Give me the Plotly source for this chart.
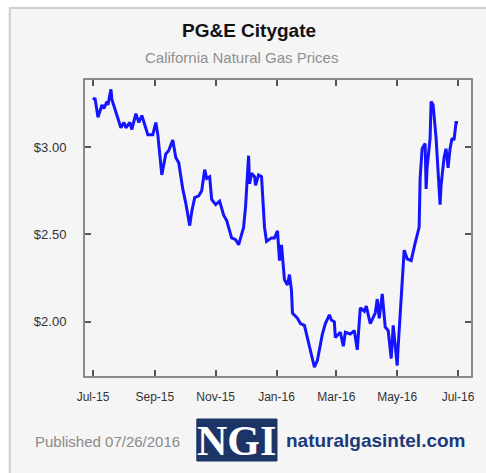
import plotly.graph_objects as go

dates = [
    "2015-07-01", "2015-07-03", "2015-07-06", "2015-07-08", "2015-07-10", "2015-07-12",
    "2015-07-15", "2015-07-16", "2015-07-19", "2015-07-20", "2015-07-25", "2015-07-29",
    "2015-08-01", "2015-08-03", "2015-08-07", "2015-08-09", "2015-08-13", "2015-08-16",
    "2015-08-19", "2015-08-22", "2015-08-25", "2015-08-30", "2015-09-02", "2015-09-04",
    "2015-09-08", "2015-09-12", "2015-09-15", "2015-09-19", "2015-09-22", "2015-09-25",
    "2015-09-29", "2015-10-02", "2015-10-06", "2015-10-08", "2015-10-11", "2015-10-15",
    "2015-10-18", "2015-10-21", "2015-10-23", "2015-10-26", "2015-10-28", "2015-11-01",
    "2015-11-05", "2015-11-09", "2015-11-12", "2015-11-14", "2015-11-17", "2015-11-21",
    "2015-11-24", "2015-11-26", "2015-11-29", "2015-12-01", "2015-12-04", "2015-12-05",
    "2015-12-07", "2015-12-10", "2015-12-11", "2015-12-14", "2015-12-17", "2015-12-20",
    "2015-12-22", "2015-12-27", "2015-12-30", "2016-01-02", "2016-01-04", "2016-01-06",
    "2016-01-09", "2016-01-12", "2016-01-14", "2016-01-16", "2016-01-17", "2016-01-22",
    "2016-01-25", "2016-01-29", "2016-02-03", "2016-02-08", "2016-02-11", "2016-02-16",
    "2016-02-19", "2016-02-23", "2016-02-25", "2016-02-28", "2016-02-29", "2016-03-05",
    "2016-03-08", "2016-03-10", "2016-03-15", "2016-03-19", "2016-03-22", "2016-03-25",
    "2016-03-29", "2016-03-31", "2016-04-04", "2016-04-09", "2016-04-11", "2016-04-13",
    "2016-04-16", "2016-04-19", "2016-04-22", "2016-04-25", "2016-04-27", "2016-05-01",
    "2016-05-02", "2016-05-05", "2016-05-08", "2016-05-11", "2016-05-15", "2016-05-19",
    "2016-05-23", "2016-05-24", "2016-05-26", "2016-05-29", "2016-05-30", "2016-05-31",
    "2016-06-03", "2016-06-04", "2016-06-06", "2016-06-09", "2016-06-11", "2016-06-13",
    "2016-06-14", "2016-06-17", "2016-06-19", "2016-06-21", "2016-06-23", "2016-06-25",
    "2016-06-27", "2016-06-29", "2016-07-01",
]

prices = [
    3.27, 3.28, 3.17, 3.20, 3.24, 3.22,
    3.26, 3.24, 3.33, 3.27, 3.18, 3.11,
    3.14, 3.11, 3.14, 3.10, 3.19, 3.14,
    3.18, 3.12, 3.07, 3.07, 3.14, 3.07,
    2.84, 2.96, 2.98, 3.04, 2.94, 2.91,
    2.76, 2.68, 2.55, 2.63, 2.71, 2.72,
    2.75, 2.87, 2.82, 2.83, 2.70, 2.67,
    2.69, 2.61, 2.58, 2.54, 2.48, 2.47,
    2.44, 2.48, 2.54, 2.66, 2.95, 2.79,
    2.85, 2.83, 2.78, 2.84, 2.83, 2.54,
    2.46, 2.48, 2.48, 2.52, 2.35, 2.44,
    2.24, 2.21, 2.27, 2.18, 2.05, 2.02,
    1.99, 1.98, 1.86, 1.74, 1.78, 1.93,
    1.99, 2.04, 2.01, 2.00, 1.91, 1.94,
    1.86, 1.94, 1.93, 1.95, 1.84, 2.08,
    2.06, 2.09, 1.99, 2.05, 2.13, 2.02,
    2.16, 1.97, 1.95, 1.79, 1.98, 1.75,
    1.86, 2.11, 2.41, 2.36, 2.35, 2.45,
    2.54, 2.82, 2.99, 3.02, 2.76, 2.88,
    3.05, 3.26, 3.24, 3.05, 2.88, 2.67,
    2.78, 2.94, 2.99, 2.88, 2.99, 3.05,
    3.04, 3.14, 3.14,
]

x_tick_vals = ["2015-07-01", "2015-09-01", "2015-11-01", "2016-01-01",
               "2016-03-01", "2016-05-01", "2016-07-01"]
x_tick_text = ["Jul-15", "Sep-15", "Nov-15", "Jan-16", "Mar-16", "May-16", "Jul-16"]
y_tick_vals = [2.0, 2.5, 3.0]
y_tick_text = ["$2.00", "$2.50", "$3.00"]

title_text = "PG&E Citygate"
subtitle_text = "California Natural Gas Prices"
published_text = "Published 07/26/2016"
logo_text = "NGI"
site_text = "naturalgasintel.com"

W, H = 486, 473
ML, MR, MT, MB = 85, 11, 80, 97
PW = W - ML - MR
PH = H - MT - MB


def px(x):
    return (x - ML) / PW


def py(y):
    return (H - MB - y) / PH


fig = go.Figure()
fig.add_trace(go.Scatter(
    x=dates, y=prices, mode="lines",
    line=dict(color="#1414ff", width=3),
    hoverinfo="skip", showlegend=False,
))

BG = "#f5f5f5"
fig.update_layout(
    width=W, height=H,
    margin=dict(l=ML, r=MR, t=MT, b=MB),
    paper_bgcolor="white",
    plot_bgcolor=BG,
    font=dict(family="Liberation Sans, Arial, sans-serif", color="#333333", size=12),
    shapes=[
        dict(type="rect", xref="paper", yref="paper", layer="below",
             x0=px(9), x1=px(492), y0=py(480), y1=py(8),
             fillcolor=BG, line=dict(color="#cfcfcf", width=2)),
        dict(type="rect", xref="paper", yref="paper", layer="above",
             x0=px(198), x1=px(279), y0=py(461), y1=py(419),
             fillcolor="#1c3466", line=dict(color="#1c3466", width=1)),
    ],
    annotations=[
        dict(text="<b>" + title_text + "</b>", xref="paper", yref="paper",
             x=px(251), y=py(31), showarrow=False, xanchor="center", yanchor="middle",
             font=dict(size=19, color="#111111")),
        dict(text=subtitle_text, xref="paper", yref="paper",
             x=px(243), y=py(57), showarrow=False, xanchor="center", yanchor="middle",
             font=dict(size=15, color="#8f8f8f")),
        dict(text=published_text, xref="paper", yref="paper",
             x=px(32), y=py(441), showarrow=False, xanchor="left", yanchor="middle",
             font=dict(size=15, color="#8a8a8a")),
        dict(text="<b>" + logo_text + "</b>", xref="paper", yref="paper",
             x=px(238.5), y=py(441), showarrow=False, xanchor="center", yanchor="middle",
             font=dict(size=42, color="white", family="Liberation Serif, Times New Roman, serif")),
        dict(text="<b>" + site_text + "</b>", xref="paper", yref="paper",
             x=px(286), y=py(440), showarrow=False, xanchor="left", yanchor="middle",
             font=dict(size=19, color="#1c3a7a")),
    ],
)

fig.update_xaxes(
    type="date", range=["2015-06-23", "2016-07-14"],
    tickvals=x_tick_vals, ticktext=x_tick_text,
    ticks="inside", ticklen=6, tickwidth=1.5, tickcolor="#555555",
    showline=True, linecolor="#8a8a8a", linewidth=2, mirror="ticks",
    showgrid=False, zeroline=False, ticklabelstandoff=9,
    tickfont=dict(size=12, color="#333333"),
)
fig.update_yaxes(
    range=[1.69, 3.383],
    tickvals=y_tick_vals, ticktext=y_tick_text,
    ticks="inside", ticklen=6, tickwidth=1.5, tickcolor="#555555",
    showline=True, linecolor="#8a8a8a", linewidth=2, mirror="ticks",
    showgrid=False, zeroline=False, ticklabelstandoff=14,
    tickfont=dict(size=13, color="#333333"),
)

fig.write_html(
    "out.html",
    config={"displayModeBar": False},
    post_script="document.body.style.margin='0';document.body.style.overflow='hidden';",
)
